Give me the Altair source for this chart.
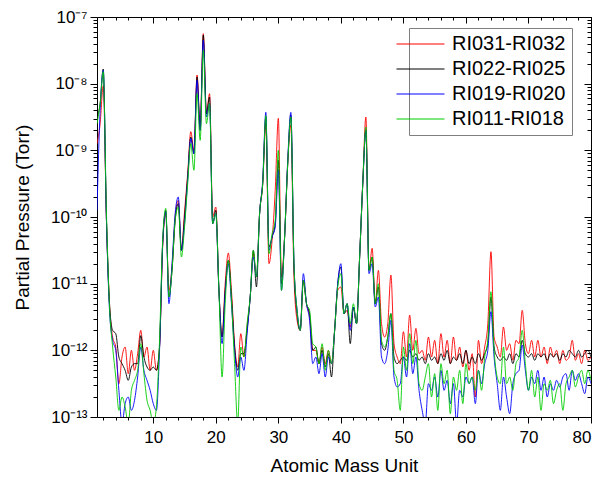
import altair as alt
import pandas as pd

# Atomic mass grid (amu), 1.0 .. 80.0 in steps of 0.5
mass = [1.0 + 0.5 * i for i in range(159)]

series_names = ["RI031-RI032", "RI022-RI025", "RI019-RI020", "RI011-RI018"]
series_colors = ["#ff0000", "#000000", "#0000ff", "#00cc00"]

# log10 of partial pressure (Torr); pairs are (m.0, m.5)
red_log = [
    -8.9, -8.6, -8.03, -10.0, -11.3, -11.8, -11.95, -12.5, -12.1, -11.95,
    -12.35, -12.0, -12.3, -12.05, -11.7, -12.1, -11.95, -12.3, -12.0, -12.3,
    -11.95, -10.45, -9.95, -11.1, -10.75, -10.0, -9.75, -10.5, -9.92, -9.35,
    -8.72, -9.0, -7.87, -8.65, -7.25, -8.45, -8.15, -10.0, -9.85, -11.1,
    -11.8, -11.0, -10.54, -11.1, -11.9, -12.25, -11.75, -12.1, -11.65, -11.2,
    -10.55, -10.9, -9.95, -9.5, -8.6, -10.7, -10.35, -9.6, -8.52, -10.9,
    -10.3, -9.2, -8.62, -10.9, -11.55, -11.7, -10.95, -11.3, -11.5, -12.0,
    -12.0, -12.2, -11.95, -12.2, -12.0, -12.2, -11.7, -11.1, -11.05, -11.45,
    -11.4, -11.65, -11.35, -11.6, -10.6, -9.5, -8.5, -10.8, -10.47, -11.3,
    -10.8, -11.6, -11.8, -11.6, -10.87, -11.9, -12.1, -12.2, -11.72, -12.1,
    -11.47, -12.0, -11.67, -12.05, -12.0, -12.15, -11.8, -12.1, -11.85, -12.2,
    -11.75, -12.1, -11.85, -12.2, -11.8, -12.15, -11.95, -12.25, -12.0, -12.3,
    -12.05, -12.7, -11.85, -12.2, -11.95, -11.6, -10.52, -11.8, -11.95, -12.1,
    -11.65, -12.0, -11.9, -12.15, -11.85, -11.9, -11.4, -11.9, -12.05, -11.85,
    -12.1, -11.85, -12.1, -11.95, -12.2, -11.95, -12.1, -12.0, -12.2, -12.0,
    -12.15, -12.1, -11.85, -12.15, -12.05, -12.2, -12.0, -12.15, -12.1,
]
black_log = [
    -8.5, -8.3, -7.78, -10.0, -11.3, -11.7, -11.75, -12.1, -12.2, -12.3,
    -12.45, -12.25, -12.2, -12.2, -11.78, -12.1, -12.25, -12.3, -12.25, -12.3,
    -11.95, -10.4, -9.9, -11.2, -10.8, -10.05, -9.8, -10.5, -10.0, -9.4,
    -8.8, -9.05, -7.9, -8.7, -7.27, -8.45, -8.2, -10.1, -9.9, -11.1,
    -11.8, -11.1, -10.65, -11.2, -11.95, -12.3, -12.05, -12.05, -11.7, -11.2,
    -10.5, -11.05, -9.95, -9.5, -8.5, -10.45, -10.3, -10.1, -9.15, -11.0,
    -10.3, -9.2, -8.47, -10.7, -11.45, -11.7, -10.95, -11.3, -11.45, -12.0,
    -11.95, -12.2, -12.0, -12.25, -12.05, -12.4, -11.7, -11.0, -10.75, -11.45,
    -11.3, -11.9, -11.35, -11.6, -10.6, -9.5, -8.7, -10.8, -10.6, -11.3,
    -11.05, -11.9, -12.0, -11.8, -11.45, -12.1, -12.2, -12.15, -12.1, -12.15,
    -12.0, -12.1, -12.05, -12.15, -12.1, -12.2, -12.05, -12.15, -12.1, -12.2,
    -12.05, -12.15, -12.0, -12.2, -12.1, -12.15, -12.05, -12.2, -12.0, -12.2,
    -12.1, -12.2, -12.05, -12.15, -12.05, -11.9, -11.2, -11.95, -12.1, -12.15,
    -12.1, -12.15, -12.05, -12.2, -12.05, -12.1, -11.85, -12.05, -12.1, -12.05,
    -12.15, -12.05, -12.1, -12.05, -12.15, -12.05, -12.1, -12.05, -12.15, -12.05,
    -12.1, -12.0, -12.05, -12.1, -12.0, -12.1, -12.05, -12.0, -12.1,
]
blue_log = [
    -9.9, -8.4, -7.8, -10.0, -11.4, -11.85, -12.0, -12.6, -13.1, -12.8,
    -12.7, -12.9, -12.75, -12.4, -11.95, -12.3, -12.45, -12.6, -12.8, -12.9,
    -12.0, -10.4, -9.92, -11.3, -10.7, -9.95, -9.7, -10.5, -10.1, -9.45,
    -8.82, -9.05, -7.95, -8.7, -7.35, -8.5, -8.3, -10.1, -9.95, -11.1,
    -11.9, -11.15, -10.7, -11.3, -12.0, -12.4, -12.1, -12.3, -11.75, -11.2,
    -10.6, -10.9, -9.95, -9.45, -8.43, -10.5, -10.3, -10.15, -9.3, -11.1,
    -10.3, -9.15, -8.43, -10.7, -11.4, -11.7, -10.85, -11.3, -11.55, -12.2,
    -12.1, -12.35, -12.05, -12.4, -12.1, -12.2, -11.7, -11.0, -10.7, -11.45,
    -11.3, -11.7, -11.35, -11.6, -10.6, -9.5, -8.7, -10.85, -10.7, -11.35,
    -11.2, -12.1, -12.2, -12.0, -11.55, -12.4, -12.55, -12.5, -12.1, -12.4,
    -11.9, -12.35, -12.1, -12.6, -12.9, -13.1, -12.5, -12.6, -12.4, -12.7,
    -12.3, -12.6, -12.45, -12.8, -12.5, -13.1, -12.6, -12.7, -12.4, -12.5,
    -12.4, -12.8, -12.3, -12.5, -12.2, -12.0, -11.42, -12.1, -12.5, -12.9,
    -12.4, -12.7, -12.95, -12.5, -12.35, -12.3, -11.92, -12.3, -12.6, -12.4,
    -12.5, -12.3, -12.6, -12.4, -12.7, -12.5, -12.6, -12.45, -12.55, -12.4,
    -12.35, -12.6, -12.3, -12.45, -12.35, -12.5, -12.65, -12.4, -12.5,
]
green_log = [
    -8.6, -8.3, -7.82, -9.9, -11.35, -11.95, -12.4, -12.9, -12.7, -12.85,
    -13.1, -12.6, -12.45, -12.3, -11.9, -12.35, -12.75, -12.9, -13.1, -12.85,
    -11.85, -10.35, -9.87, -11.2, -10.8, -10.05, -9.85, -10.6, -10.15, -9.5,
    -8.9, -9.3, -8.15, -8.85, -7.5, -8.6, -8.3, -10.1, -9.95, -11.1,
    -12.4, -11.3, -10.65, -11.25, -12.2, -13.1, -11.95, -12.1, -11.6, -11.2,
    -10.5, -10.9, -9.95, -9.5, -8.48, -10.55, -10.25, -10.05, -9.0, -11.1,
    -10.3, -9.2, -8.5, -10.7, -11.4, -11.7, -10.95, -11.3, -11.4, -11.9,
    -11.95, -12.2, -11.9, -12.3, -12.0, -12.2, -11.7, -11.05, -10.85, -11.45,
    -11.3, -11.6, -11.3, -11.6, -10.6, -9.5, -8.65, -10.8, -10.6, -11.3,
    -11.0, -11.85, -11.95, -11.8, -11.45, -12.3, -12.45, -12.9, -11.95, -12.3,
    -11.75, -12.2, -11.85, -12.5, -12.6, -12.4, -12.2, -12.7, -12.35, -12.9,
    -12.2, -12.5, -12.3, -12.95, -12.4, -12.6, -12.3, -12.8, -12.2, -12.5,
    -12.4, -12.6, -12.3, -12.6, -12.1, -11.85, -11.12, -12.0, -12.4, -12.5,
    -11.95, -12.5, -12.4, -12.6, -12.2, -12.1, -11.7, -12.2, -12.6, -12.3,
    -12.7, -12.4, -12.9, -12.5, -12.6, -12.45, -12.8, -12.6, -12.5, -12.9,
    -12.5, -12.4, -12.3, -12.55, -12.4, -12.3, -12.5, -12.3, -12.45,
]

x_tick_values = list(range(2, 81, 2))
y_tick_values = [k * 10.0 ** d for d in range(-13, -7) for k in range(1, 10)] + [1e-7]
y_labels = ["10⁻¹³", "10⁻¹²", "10⁻¹¹", "10⁻¹⁰", "10⁻⁹", "10⁻⁸", "10⁻⁷"]

rows = []
for name, logs in zip(series_names, [red_log, black_log, blue_log, green_log]):
    for m, v in zip(mass, logs):
        rows.append({"mass": m, "pressure": 10.0 ** v, "series": name})
df = pd.DataFrame(rows)

FONT = "Liberation Sans"
W, H = 494, 400

L = "(log(datum.value)/LN10)"
y_major = f"abs({L} - round({L})) < 0.000001"
x_major = "datum.value % 10 == 0"
y_label_expr = (
    f"{y_major} ? [" + ",".join(f"'{s}'" for s in y_labels) + f"][round({L}) + 13] : ''"
)

xscale = alt.Scale(domain=[1, 80], nice=False, zero=False)
yscale = alt.Scale(type="log", domain=[1e-13, 1e-7], nice=False)
cscale = alt.Scale(domain=series_names, range=series_colors)

common_axis = dict(grid=False, domainColor="black", tickColor="black",
                   domainWidth=1, tickWidth=1)

x_axis_bottom = alt.Axis(
    values=x_tick_values,
    labelExpr=f"{x_major} ? datum.label : ''",
    tickSize={"condition": {"test": x_major, "value": 6}, "value": 3},
    title="Atomic Mass Unit", labelFontSize=17, titleFontSize=19,
    labelPadding=6, titlePadding=11, labelColor="black", titleColor="black",
    labelFont=FONT, titleFont=FONT, titleFontWeight="normal", format="d",
    **common_axis,
)
y_axis_left = alt.Axis(
    values=y_tick_values,
    labelExpr=y_label_expr,
    tickSize={"condition": {"test": y_major, "value": 7}, "value": 4},
    title="Partial Pressure (Torr)", labelFontSize=17, titleFontSize=19,
    labelPadding=3, titlePadding=18, labelColor="black", titleColor="black",
    labelFont=FONT, titleFont=FONT, titleFontWeight="normal",
    **common_axis,
)
x_axis_top = alt.Axis(
    values=x_tick_values, labels=False, title=None, orient="bottom", offset=-H,
    tickSize={"condition": {"test": x_major, "value": 6}, "value": 3},
    **common_axis,
)
y_axis_right = alt.Axis(
    values=y_tick_values, labels=False, title=None, orient="left", offset=-W,
    tickSize={"condition": {"test": y_major, "value": 7}, "value": 4},
    **common_axis,
)

lines = alt.Chart(df).mark_line(
    strokeWidth=0.9, interpolate="monotone", clip=True
).encode(
    x=alt.X("mass:Q", scale=xscale, axis=x_axis_bottom),
    y=alt.Y("pressure:Q", scale=yscale, axis=y_axis_left),
    color=alt.Color(
        "series:N", scale=cscale, sort=series_names,
        legend=alt.Legend(
            title=None, orient="none", legendX=312, legendY=11,
            labelFontSize=20, labelFont=FONT, labelColor="black",
            symbolType="M-5.7,0H3.9", symbolSize=100, symbolStrokeWidth=1.2,
            labelOffset=17, rowPadding=5, padding=6,
            strokeColor="#7f7f7f", fillColor="white", cornerRadius=0,
            offset=0,
        ),
    ),
)

mirror = alt.Chart(df).mark_line(strokeOpacity=0, clip=True).encode(
    x=alt.X("mass:Q", scale=xscale, axis=x_axis_top),
    y=alt.Y("pressure:Q", scale=yscale, axis=y_axis_right),
)

chart = alt.layer(lines, mirror).resolve_axis(
    x="independent", y="independent"
).properties(
    width=W, height=H,
    autosize=alt.AutoSizeParams(type="none"),
    padding={"left": 97, "top": 17, "right": 14, "bottom": 64},
).configure_view(stroke=None).configure(font=FONT, background="white")

chart.save("out.html", embed_options={"renderer": "svg", "actions": False})
